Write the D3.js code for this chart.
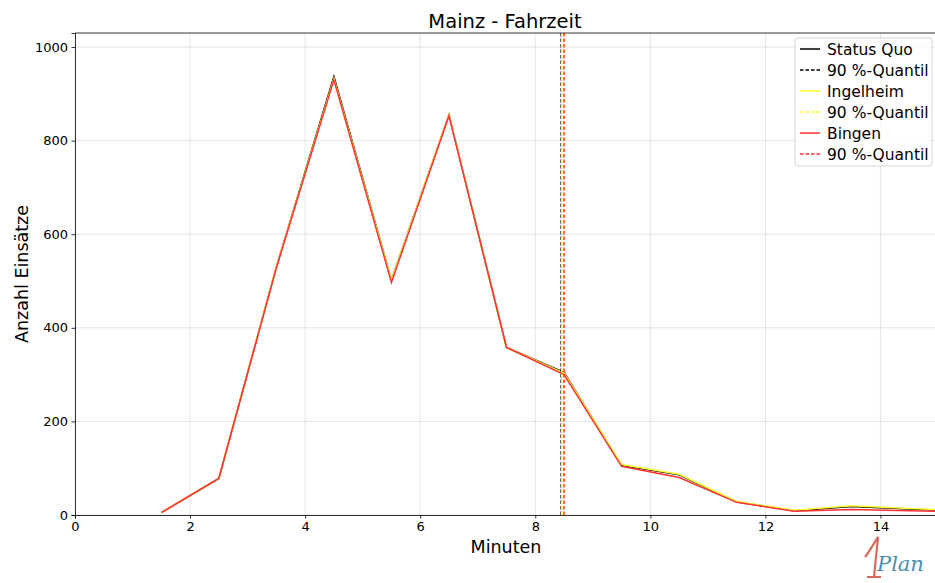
<!DOCTYPE html>
<html>
<head>
<meta charset="utf-8">
<script src="https://cdn.jsdelivr.net/npm/d3@7"></script>
<style>
  body { margin: 0; background: #fff; }
  text { font-family: "DejaVu Sans", sans-serif; }
</style>
</head>
<body>
<div id="chart"></div>
<script>
// data
var minutes = [1.5, 2.5, 3.5, 4.5, 5.5, 6.5, 7.5, 8.5, 9.5, 10.5, 11.5, 12.5, 13.5, 14.5, 15.5];
var statusQuo = [5, 78, 530, 937, 502, 855, 358, 305, 106, 86, 28, 9, 18, 13, 8];
var ingelheim = [5, 78, 530, 933, 502, 855, 358, 303, 108, 87, 29, 10, 20, 14, 9];
var bingen = [5, 78, 528, 930, 497, 853, 358, 300, 104, 80, 27, 8, 12, 9, 7];
var quantiles = [8.45, 8.46, 8.5];
var seriesNames = ["Status Quo", "Ingelheim", "Bingen"];
var seriesColors = ["#000000", "#ffff33", "#ff3333"];
var xTicks = [0, 2, 4, 6, 8, 10, 12, 14];
var yTicks = [0, 200, 400, 600, 800, 1000];

var margin = { top: 33, right: -3, bottom: 68, left: 75 },
  width = 935 - margin.left - margin.right,
  height = 583 - margin.top - margin.bottom;

var svg = d3.select("#chart")
  .append("svg")
  .attr("width", 935)
  .attr("height", 583);

var g = svg.append("g")
  .attr("transform", "translate(" + margin.left + "," + margin.top + ")");

var x = d3.scaleLinear().domain([0, 15]).range([0, width]);
var y = d3.scaleLinear().domain([0, 1030]).range([height, 0]);

// grid
g.selectAll(".gx")
  .data(xTicks)
  .enter()
  .append("line")
  .attr("x1", function (d) { return x(d); })
  .attr("x2", function (d) { return x(d); })
  .attr("y1", 0)
  .attr("y2", height)
  .attr("stroke", "#b0b0b0")
  .attr("stroke-opacity", 0.4)
  .attr("stroke-width", 0.8);
g.selectAll(".gy")
  .data(yTicks)
  .enter()
  .append("line")
  .attr("x1", 0)
  .attr("x2", width)
  .attr("y1", function (d) { return y(d); })
  .attr("y2", function (d) { return y(d); })
  .attr("stroke", "#b0b0b0")
  .attr("stroke-opacity", 0.4)
  .attr("stroke-width", 0.8);

// clip for lines
svg.append("defs").append("clipPath")
  .attr("id", "clip")
  .append("rect")
  .attr("width", width)
  .attr("height", height);

var line = d3.line()
  .x(function (d) { return x(d[0]); })
  .y(function (d) { return y(d[1]); });

var allSeries = [statusQuo, ingelheim, bingen];
var plot = g.append("g").attr("clip-path", "url(#clip)");

allSeries.forEach(function (s, i) {
  plot.append("path")
    .datum(minutes.map(function (m, j) { return [m, s[j]]; }))
    .attr("fill", "none")
    .attr("stroke", seriesColors[i])
    .attr("stroke-width", 1.5)
    .attr("d", line);
});

quantiles.forEach(function (q, i) {
  plot.append("line")
    .attr("x1", x(q))
    .attr("x2", x(q))
    .attr("y1", 0)
    .attr("y2", height)
    .attr("stroke", seriesColors[i])
    .attr("stroke-width", 1.5)
    .attr("stroke-dasharray", "3.5,2");
});

// axes
var xAxis = g.append("g")
  .attr("transform", "translate(0," + height + ")")
  .call(d3.axisBottom(x).tickValues(xTicks).tickSize(3.5).tickPadding(3.5).tickFormat(d3.format("d")));
var yAxis = g.append("g")
  .call(d3.axisLeft(y).tickValues(yTicks).tickSize(3.5).tickPadding(3.5).tickFormat(d3.format("d")));
[xAxis, yAxis].forEach(function (a) {
  a.selectAll("text").style("font-size", "13px").attr("fill", "#000");
  a.selectAll("line").attr("stroke", "#000").attr("stroke-width", 0.8);
  a.select(".domain").attr("stroke", "#000").attr("stroke-width", 0.8);
});
// top frame
g.append("line").attr("x1", 0).attr("x2", width).attr("y1", 0).attr("y2", 0)
  .attr("stroke", "#000").attr("stroke-width", 0.8);

// labels
svg.append("text")
  .attr("x", 505)
  .attr("y", 28)
  .attr("text-anchor", "middle")
  .style("font-size", "19.5px")
  .text("Mainz - Fahrzeit");
svg.append("text")
  .attr("x", 506)
  .attr("y", 553)
  .attr("text-anchor", "middle")
  .style("font-size", "17.5px")
  .text("Minuten");
svg.append("text")
  .attr("transform", "translate(28," + (margin.top + height / 2) + ")rotate(-90)")
  .attr("text-anchor", "middle")
  .style("font-size", "17.5px")
  .text("Anzahl Einsätze");

// legend
var legend = svg.append("g").attr("transform", "translate(795,38)");
legend.append("rect")
  .attr("width", 137)
  .attr("height", 128)
  .attr("rx", 3)
  .attr("fill", "#fff")
  .attr("fill-opacity", 0.8)
  .attr("stroke", "#ccc")
  .attr("stroke-width", 0.8);
var legendItems = [];
seriesNames.forEach(function (n, i) {
  legendItems.push({ name: n, color: seriesColors[i], dash: null });
  legendItems.push({ name: "90 %-Quantil", color: seriesColors[i], dash: "3.5,2" });
});
legendItems.forEach(function (d, i) {
  var row = legend.append("g").attr("transform", "translate(0," + (11 + i * 21) + ")");
  row.append("line")
    .attr("x1", 5).attr("x2", 25)
    .attr("stroke", d.color)
    .attr("stroke-width", 1.5)
    .attr("stroke-dasharray", d.dash);
  row.append("text")
    .attr("x", 32)
    .attr("y", 5.5)
    .style("font-size", "15.5px")
    .text(d.name);
});

// logo
var logo = svg.append("g").attr("transform", "translate(862,535)");
logo.append("path")
  .attr("d", "M3,22 C8,16 12,8 16,2 L12,42 M5,42 L19,42")
  .attr("fill", "none")
  .attr("stroke", "#d9675a")
  .attr("stroke-width", 2.2);
logo.append("text")
  .attr("x", 15)
  .attr("y", 36)
  .style("font-size", "21px")
  .style("font-style", "italic")
  .style("font-family", "'DejaVu Serif', serif")
  .attr("fill", "#4a8fb0")
  .text("Plan");
</script>
</body>
</html>
